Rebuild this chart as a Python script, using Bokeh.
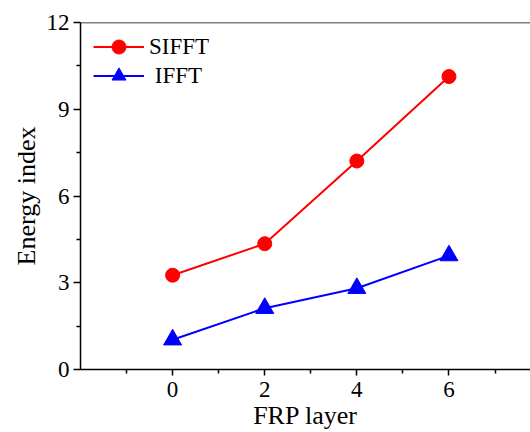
from bokeh.plotting import figure
from bokeh.models import Range1d, FixedTicker, Span, Legend, LegendItem
from bokeh.embed import file_html
from bokeh.resources import INLINE

frp_layer = [0, 2, 4, 6]
sifft = [3.26, 4.35, 7.21, 10.13]
ifft = [1.03, 2.12, 2.81, 3.94]
x_ticks = [0, 2, 4, 6]
y_ticks = [0, 3, 6, 9, 12]
series_names = ["SIFFT", " IFFT"]
x_title = "FRP layer"
y_title = "Energy index"

FONT = "Liberation Serif"

p = figure(width=530, height=432, output_backend="svg", toolbar_location=None,
           x_range=Range1d(-2, 7.77), y_range=Range1d(0, 12),
           min_border_left=80, min_border_right=0, min_border_top=22, min_border_bottom=63)
p.outline_line_color = None
p.grid.visible = False
p.background_fill_color = "white"
p.border_fill_color = "white"

p.add_layout(Span(location=12, dimension="width", line_color="black", line_width=1.5))

l1 = p.line(frp_layer, sifft, line_color="red", line_width=2)
s1 = p.scatter(frp_layer, sifft, marker="circle", size=14, fill_color="red", line_color="red")
l2 = p.line(frp_layer, ifft, line_color="blue", line_width=2)
s2 = p.scatter(frp_layer, ifft, marker="triangle", size=18, fill_color="blue", line_color="blue")

for ax in (p.xaxis, p.yaxis):
    ax.axis_line_width = 1.5
    ax.axis_line_color = "black"
    ax.major_tick_line_width = 1.5
    ax.minor_tick_line_width = 1.5
    ax.major_tick_out = 7
    ax.major_tick_in = 0
    ax.minor_tick_out = 4
    ax.minor_tick_in = 0
    ax.major_label_text_font = FONT
    ax.major_label_text_font_size = "23px"
    ax.major_label_text_color = "black"
    ax.axis_label_text_font = FONT
    ax.axis_label_text_font_size = "26px"
    ax.axis_label_text_font_style = "normal"
    ax.axis_label_text_color = "black"

p.xaxis.ticker = FixedTicker(ticks=x_ticks, minor_ticks=[-1, 1, 3, 5, 7])
p.yaxis.ticker = FixedTicker(ticks=y_ticks, minor_ticks=[1.5, 4.5, 7.5, 10.5])
p.xaxis.axis_label = x_title
p.yaxis.axis_label = y_title
p.xaxis.major_tick_out = 6
p.xaxis.major_label_standoff = 6
p.xaxis.axis_label_standoff = 1
p.yaxis.major_label_standoff = 4
p.yaxis.axis_label_standoff = 3


def make_legend(label, renderers, y):
    lg = Legend(items=[LegendItem(label=label, renderers=renderers)], location=(13, y))
    lg.margin = 0
    lg.padding = 0
    lg.spacing = 0
    lg.border_line_color = None
    lg.background_fill_alpha = 0
    lg.glyph_width = 51
    lg.glyph_height = 35
    lg.label_height = 35
    lg.label_standoff = 5
    lg.label_text_font = FONT
    lg.label_text_font_size = "23px"
    lg.label_text_color = "black"
    p.add_layout(lg, "center")


make_legend(series_names[0], [l1, s1], 305)
make_legend(series_names[1], [l2, s2], 276)

open("out.html", "w").write(file_html(p, INLINE))
